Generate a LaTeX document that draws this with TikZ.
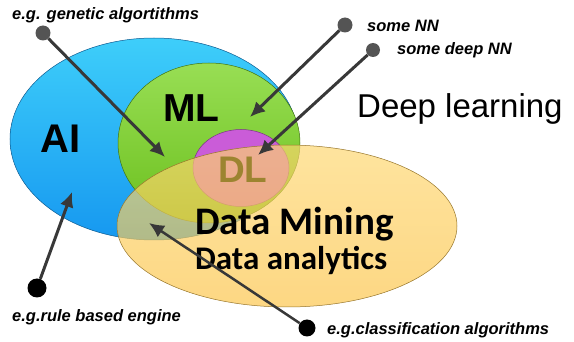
\documentclass[tikz,border=0pt]{standalone}
\usepackage{fontspec}
\setmainfont{Liberation Sans}
\newfontfamily\calibfont{Carlito}
\usetikzlibrary{arrows.meta,shapes.geometric}
\definecolor{aitop}{RGB}{62,206,250}
\definecolor{aibot}{RGB}{22,152,240}
\definecolor{mltop}{RGB}{152,222,84}
\definecolor{mlbot}{RGB}{108,192,30}
\definecolor{dlpink}{RGB}{202,92,216}
\definecolor{dmtop}{RGB}{253,215,112}
\definecolor{dmbot}{RGB}{252,196,72}
\definecolor{dltext}{RGB}{156,132,48}
\tikzset{
  {base set/.style} ={ellipse,inner sep=0,draw=#1,line width=.5pt},
  {grey point/.style} ={circle,fill=black!67,inner sep=0,minimum size=15pt},
  {black point/.style} ={circle,fill=black,inner sep=0,minimum size=19pt},
  {pointer/.style} ={line width=3pt,draw=black!78,-{Latex[length=15pt,width=14pt]}},
  {note/.style} ={anchor=base west,inner sep=0,
                  font=\fontsize{16.5}{18}\selectfont\bfseries\itshape},
  {set label/.style} ={anchor=base west,inner sep=0,
                  font=\fontsize{40}{40}\selectfont\bfseries},
  {mining label/.style} ={anchor=base west,inner sep=0,font=\calibfont\bfseries},
}
\begin{document}
\begin{tikzpicture}[x=1pt,y=-1pt]
\useasboundingbox (0,0) rectangle (574,342);
% the sets
\node[base set=aibot!60!black,top color=aitop,bottom color=aibot,
      minimum width=288pt,minimum height=202pt] (ai) at (154,139) {};
\node[base set=mlbot!60!black,top color=mltop,bottom color=mlbot,
      minimum width=182pt,minimum height=160pt] (ml) at (209,143) {};
\node[base set=dlpink!60!black,fill=dlpink,
      minimum width=96pt,minimum height=77pt] (dl) at (241,168) {};
\node[base set=dmbot!60!black,top color=dmtop,bottom color=dmbot,fill opacity=.68,
      minimum width=340pt,minimum height=162pt] (dm) at (287,226) {};
\node[set label] (ailabel) at (40,153) {AI};
\node[set label,font=\fontsize{39}{39}\selectfont\bfseries] (mllabel) at (163,122) {ML};
\node[set label,text=dltext,font=\fontsize{37}{37}\selectfont\bfseries] (dllabel) at (218,183) {DL};
\node[mining label,font=\calibfont\bfseries\fontsize{39}{39}\selectfont] (mining) at (195,235) {Data Mining};
\node[mining label,font=\calibfont\bfseries\fontsize{33}{33}\selectfont] (analytics) at (195,270) {Data analytics};
\node[anchor=base west,inner sep=0,font=\fontsize{33}{33}\selectfont] (deep) at (357,118) {Deep learning};
% the notes
\node[note] (genetic) at (12,20) {e.g. genetic algortithms};
\node[note] (somenn) at (367,32) {some NN};
\node[note] (deepnn) at (397,55) {some deep NN};
\node[note] (rule) at (12,322) {e.g.rule based engine};
\node[note] (classif) at (327,335) {e.g.classification algorithms};
\node[grey point] (pgenetic) at (43,33) {};
\node[grey point] (psomenn) at (345,25) {};
\node[grey point,minimum size=14pt] (pdeepnn) at (373,50) {};
\node[black point] (prule) at (37,288) {};
\node[black point,minimum size=17pt] (pclassif) at (307,328) {};
\coordinate (tgenetic) at (165,157);
\coordinate (tsomenn) at (250,117);
\coordinate (tdeepnn) at (258,155);
\coordinate (trule) at (72,192);
\coordinate (tclassif) at (149,223);
\draw[pointer] (pgenetic) -- (tgenetic);
\draw[pointer] (psomenn) -- (tsomenn);
\draw[pointer] (pdeepnn) -- (tdeepnn);
\draw[pointer] (prule) -- (trule);
\draw[pointer,line width=2.5pt] (pclassif) -- (tclassif);
\end{tikzpicture}
\end{document}
